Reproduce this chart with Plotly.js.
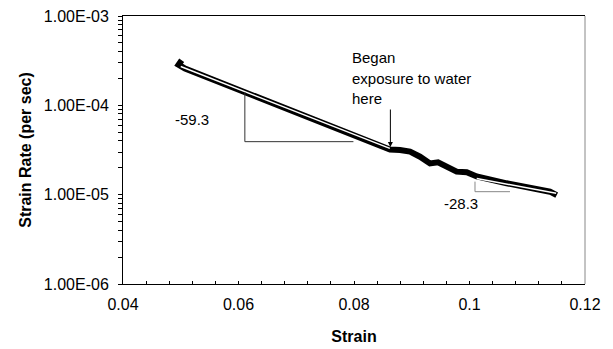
<!DOCTYPE html>
<html>
<head>
<meta charset="utf-8">
<script src="https://cdn.plot.ly/plotly-3.0.1.min.js"></script>
<style>html,body{margin:0;padding:0;background:#fff;}#chart{width:613px;height:349px;}</style>
</head>
<body>
<div id="chart"></div>
<script>
const strain = [0.05016, 0.04962, 0.05074, 0.05420, 0.05766, 0.06113, 0.06459, 0.06805, 0.07151,
  0.07498, 0.07844, 0.08190, 0.08450, 0.08623, 0.08797, 0.08970, 0.09143, 0.09316, 0.09455,
  0.09605, 0.09778, 0.09952, 0.10125, 0.10644, 0.11105, 0.11394, 0.11510];
const strainRate = [3.20e-4, 2.85e-4, 2.58e-4, 2.11e-4, 1.72e-4, 1.41e-4, 1.153e-4, 9.46e-5, 7.73e-5,
  6.33e-5, 5.17e-5, 4.23e-5, 3.62e-5, 3.20e-5, 3.16e-5, 3.03e-5, 2.66e-5, 2.24e-5, 2.30e-5,
  2.06e-5, 1.81e-5, 1.78e-5, 1.60e-5, 1.34e-5, 1.18e-5, 1.08e-5, 9.9e-6];

// Fitted trend lines (white)
const fit1X = [0.0500, 0.0862];
const fit1Y = [2.72e-4, 3.30e-5];
const fit2X = [0.10125, 0.1150];
const fit2Y = [1.52e-5, 1.035e-5];

// Slope triangles
const tri1X = [0.0611, 0.0611, 0.0799];
const tri1Y = [1.41e-4, 3.92e-5, 3.92e-5];
const tri2X = [0.10095, 0.10095, 0.10701];
const tri2Y = [1.40e-5, 1.08e-5, 1.08e-5];

// Axis ticks
const yTickVals = [];
const yTickText = [];
[-6, -5, -4].forEach(function (e) {
  for (let m = 1; m <= 9; m++) {
    yTickVals.push(m * Math.pow(10, e));
    yTickText.push(m === 1 ? '1.00E-0' + (-e) : '');
  }
});
yTickVals.push(1e-3); yTickText.push('1.00E-03');

const xTickVals = [];
const xTickText = [];
const xMajor = {0.04: '0.04', 0.06: '0.06', 0.08: '0.08', 0.1: '0.1', 0.12: '0.12'};
for (let i = 0; i <= 20; i++) {
  const v = Math.round((0.04 + i * 0.004) * 1000) / 1000;
  xTickVals.push(v);
  xTickText.push(xMajor[v] !== undefined ? xMajor[v] : '');
}

const font = 'Liberation Sans, Arial, sans-serif';

const traces = [
  {x: strain, y: strainRate, mode: 'lines', line: {color: '#000', width: 6}, hoverinfo: 'skip'},
  {x: fit1X, y: fit1Y, mode: 'lines', line: {color: '#fff', width: 1.5}, hoverinfo: 'skip'},
  {x: fit2X, y: fit2Y, mode: 'lines', line: {color: '#fff', width: 1.5}, hoverinfo: 'skip'},
  {x: tri1X, y: tri1Y, mode: 'lines', line: {color: '#333', width: 1}, hoverinfo: 'skip'},
  {x: tri2X, y: tri2Y, mode: 'lines', line: {color: '#888', width: 1}, hoverinfo: 'skip'}
];

const layout = {
  width: 613, height: 349,
  margin: {l: 123, r: 28, t: 16, b: 65},
  paper_bgcolor: '#fff', plot_bgcolor: '#fff',
  showlegend: false,
  font: {family: font, color: '#000', size: 16},
  xaxis: {
    range: [0.04, 0.12], tickmode: 'array', tickvals: xTickVals, ticktext: xTickText,
    ticks: 'inside', ticklen: 3, tickcolor: '#000', showgrid: false, zeroline: false,
    showline: true, linecolor: '#000', linewidth: 1, mirror: true,
    tickfont: {size: 16, family: font}, ticklabelstandoff: 6,
    title: {text: '<b>Strain</b>', font: {size: 16, family: font}, standoff: 18}
  },
  yaxis: {
    type: 'log', range: [-6, -3], tickmode: 'array', tickvals: yTickVals, ticktext: yTickText,
    ticks: 'outside', ticklen: 4, tickcolor: '#000', showgrid: false, zeroline: false,
    showline: true, linecolor: '#000', linewidth: 1,
    tickfont: {size: 16, family: font}, ticklabelstandoff: 6,
    title: {text: '<b>Strain Rate (per sec)</b>', font: {size: 16, family: font}, standoff: 8}
  },
  shapes: [
    {type: 'line', xref: 'paper', yref: 'paper', x0: 1, x1: 1, y0: 0, y1: 1, line: {color: '#888', width: 1}}
  ],
  annotations: [
    {x: 0.0519, y: -4.1564, text: '-59.3', showarrow: false, font: {size: 15, family: font}},
    {x: 0.09849, y: -5.0967, text: '-28.3', showarrow: false, font: {size: 15, family: font}},
    {x: 0.07931, y: -3.470, text: 'Began', xanchor: 'left', showarrow: false, font: {size: 15, family: font}},
    {x: 0.07931, y: -3.694, text: 'exposure to water', xanchor: 'left', showarrow: false, font: {size: 15, family: font}},
    {x: 0.07931, y: -3.918, text: 'here', xanchor: 'left', showarrow: false, font: {size: 15, family: font}},
    {x: 0.0863, y: -4.4665, text: '', showarrow: true, ax: 0, ay: -39, arrowhead: 2, arrowsize: 1,
     arrowwidth: 1, arrowcolor: '#000'}
  ]
};

Plotly.newPlot('chart', traces, layout, {displayModeBar: false, staticPlot: true});
</script>
</body>
</html>
